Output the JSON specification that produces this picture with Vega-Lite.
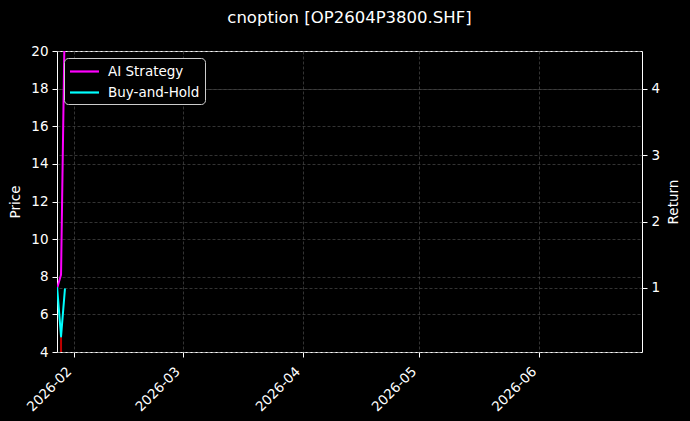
{
  "$schema": "https://vega.github.io/schema/vega-lite/v6.json",
  "width": 585,
  "height": 301,
  "autosize": {"type": "none"},
  "padding": {"left": 57, "top": 51, "right": 48, "bottom": 69},
  "background": "#000000",
  "title": {"text": "cnoption [OP2604P3800.SHF]", "color": "#ffffff", "fontSize": 16.5, "font": "DejaVu Sans", "fontWeight": "normal", "anchor": "middle", "offset": 18},
  "config": {
    "view": {"stroke": "#ffffff", "strokeWidth": 1},
    "font": "DejaVu Sans",
    "axis": {
      "labelColor": "#ffffff", "labelFontSize": 13.5, "labelFont": "DejaVu Sans",
      "titleColor": "#ffffff", "titleFontSize": 13.5, "titleFont": "DejaVu Sans", "titleFontWeight": "normal",
      "tickColor": "#ffffff", "tickSize": 5, "tickWidth": 1, "domainColor": "#ffffff", "domainWidth": 1,
      "gridColor": "#555555", "gridDash": [3, 2], "gridWidth": 0.6, "labelPadding": 4
    }
  },
  "datasets": {
    "ret": [
      {"date": "2026-01-27T15:00:00", "series": "AI Strategy", "ret": 1.0},
      {"date": "2026-01-28T15:00:00", "series": "AI Strategy", "ret": 1.2},
      {"date": "2026-01-29T15:00:00", "series": "AI Strategy", "ret": 5.2},
      {"date": "2026-01-27T15:00:00", "series": "Buy-and-Hold", "ret": 1.0},
      {"date": "2026-01-28T15:00:00", "series": "Buy-and-Hold", "ret": 0.27},
      {"date": "2026-01-29T15:00:00", "series": "Buy-and-Hold", "ret": 0.98}
    ],
    "price": [
      {"date": "2026-01-28T15:00:00", "price": 4.8, "base": 4}
    ]
  },
  "layer": [
    {
      "data": {"name": "price"},
      "mark": {"type": "rule", "color": "#c00000", "strokeWidth": 2, "clip": true},
      "encoding": {
        "x": {
          "field": "date", "type": "temporal",
          "scale": {"domain": [{"year": 2026, "month": "jan", "date": 27, "hours": 14}, {"year": 2026, "month": "jun", "date": 27, "hours": 14}]},
          "axis": {"title": null, "format": "%Y-%m", "tickCount": {"interval": "month", "step": 1}, "labelAngle": 315, "labelAlign": "right", "labelBaseline": "middle", "labelOffset": -5, "labelPadding": 12, "grid": true, "domain": false}
        },
        "y": {"field": "price", "type": "quantitative", "scale": {"domain": [4, 20], "nice": false, "zero": false}, "axis": {"title": "Price", "orient": "left", "values": [4, 6, 8, 10, 12, 14, 16, 18, 20], "grid": true, "domain": false, "titlePadding": 8}},
        "y2": {"field": "base"}
      }
    },
    {
      "data": {"name": "ret"},
      "mark": {"type": "line", "strokeWidth": 2, "clip": true, "strokeJoin": "round", "strokeCap": "round"},
      "encoding": {
        "x": {"field": "date", "type": "temporal"},
        "y": {"field": "ret", "type": "quantitative", "scale": {"domain": [0.035, 4.57], "nice": false, "zero": false}, "axis": {"title": "Return", "orient": "right", "values": [1, 2, 3, 4], "grid": true, "domain": false, "titleAngle": 270, "titlePadding": 21}},
        "color": {
          "field": "series", "type": "nominal",
          "scale": {"domain": ["AI Strategy", "Buy-and-Hold"], "range": ["#ff00ff", "#00ffff"]},
          "legend": {"title": null, "orient": "none", "legendX": 7, "legendY": 7, "symbolType": "M-2,0H2", "symbolSize": 210, "symbolOffset": 7, "symbolStrokeWidth": 2.2, "labelColor": "#ffffff", "labelFontSize": 13.5, "labelFont": "DejaVu Sans", "labelOffset": 15, "fillColor": "#000000", "strokeColor": "#cccccc", "cornerRadius": 4, "padding": 5, "rowPadding": 6}
        }
      }
    }
  ],
  "resolve": {"scale": {"y": "independent"}}
}
